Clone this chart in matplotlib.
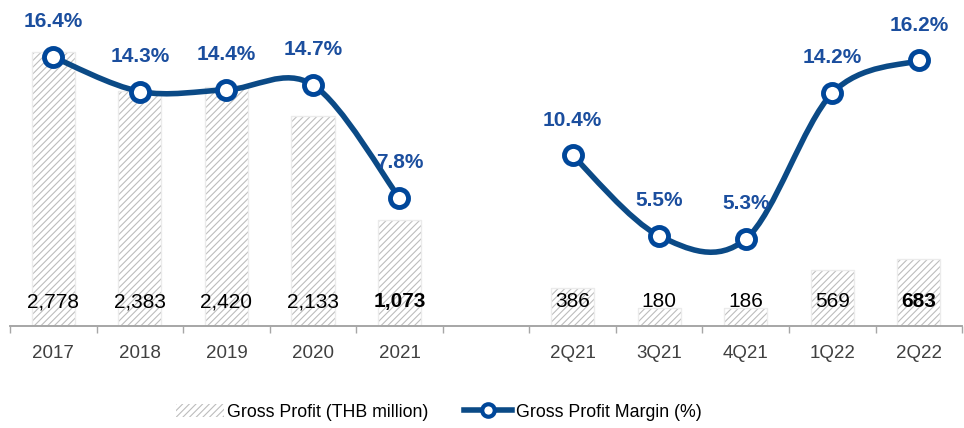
import matplotlib
matplotlib.use("Agg")
import matplotlib.pyplot as plt
import numpy as np
from matplotlib.path import Path
from matplotlib.patches import PathPatch, Patch
from matplotlib.lines import Line2D

plt.rcParams["font.family"] = ["Liberation Sans", "DejaVu Sans"]
plt.rcParams["hatch.linewidth"] = 0.8

# data
years = ["2017", "2018", "2019", "2020", "2021"]
quarters = ["2Q21", "3Q21", "4Q21", "1Q22", "2Q22"]
gp_years = [2778, 2383, 2420, 2133, 1073]
gp_quarters = [386, 180, 186, 569, 683]
gpm_years = [16.4, 14.3, 14.4, 14.7, 7.8]
gpm_quarters = [10.4, 5.5, 5.3, 14.2, 16.2]
bold_labels = ["2021", "2Q22"]

line_col = "#0B4A86"
mark_col = "#00479A"
text_col = "#1B4E9E"
hatch_col = "#BDBDBD"

labels = years + [""] + quarters
pos_years = np.arange(len(years))
pos_quarters = np.arange(len(quarters)) + len(years) + 1

fig = plt.figure(figsize=(9.64, 4.28), dpi=100)
ax = fig.add_axes([0.0104, 0.2383, 0.9876, 0.7617])
ax2 = ax.twinx()

ax.set_xlim(-0.5, 10.5)
ax.set_ylim(0, 3306)
ax2.set_ylim(0, 19.88)

# bars
for pos, vals, cats in [(pos_years, gp_years, years), (pos_quarters, gp_quarters, quarters)]:
    ax.bar(pos, vals, width=0.5, color="white", edgecolor=hatch_col, hatch="/////",
           linewidth=0, zorder=1)
    ax.bar(pos, vals, width=0.5, fill=False, edgecolor="#EBEBEB", linewidth=1, zorder=2)
    for p, v, c in zip(pos, vals, cats):
        ax.text(p, 150, f"{v:,}", ha="center", va="bottom", fontsize=15,
                fontweight="bold" if c in bold_labels else "normal", color="black", zorder=5)


def smooth_path(xs, ys):
    # Catmull-Rom style bezier through the points (like Excel smoothed lines)
    xs = np.asarray(xs, float)
    ys = np.asarray(ys, float)
    pts = np.column_stack([xs, ys])
    verts = [pts[0]]
    codes = [Path.MOVETO]
    n = len(pts)
    for i in range(n - 1):
        p0 = pts[max(i - 1, 0)]
        p1 = pts[i]
        p2 = pts[i + 1]
        p3 = pts[min(i + 2, n - 1)]
        c1 = p1 + (p2 - p0) / 6
        c2 = p2 - (p3 - p1) / 6
        verts += [c1, c2, p2]
        codes += [Path.CURVE4] * 3
    return Path(verts, codes)


for pos, vals in [(pos_years, gpm_years), (pos_quarters, gpm_quarters)]:
    ax2.add_patch(PathPatch(smooth_path(pos, vals), facecolor="none", edgecolor=line_col,
                            linewidth=4, capstyle="round", zorder=3))
    ax2.plot(pos, vals, linestyle="none", marker="o", markersize=13, markerfacecolor="white",
             markeredgecolor=mark_col, markeredgewidth=3.5, zorder=4)
    for p, v in zip(pos, vals):
        ax2.annotate(f"{v:.1f}%", (p, v), xytext=(0, 18.5), textcoords="offset points",
                     ha="center", va="bottom", fontsize=15, fontweight="bold", color=text_col,
                     annotation_clip=False)

# axes styling
ax.set_xticks(np.arange(11))
ax.set_xticklabels(labels)
ax.set_xticks(np.arange(-0.5, 11, 1), minor=True)
ax.tick_params(axis="x", which="major", length=0, pad=14, labelsize=13.5, labelcolor="#404040")
ax.tick_params(axis="x", which="minor", length=5, width=1, color="#A6A6A6")
ax.set_yticks([])
ax2.set_yticks([])
for a in (ax, ax2):
    for s in ["top", "left", "right"]:
        a.spines[s].set_visible(False)
    a.spines["bottom"].set_color("#A6A6A6")
    a.spines["bottom"].set_linewidth(1.2)

# legend
handles = [
    Patch(facecolor="white", edgecolor=hatch_col, hatch="/////", linewidth=0),
    Line2D([0], [0], color=line_col, linewidth=4, marker="o", markersize=9,
           markerfacecolor="white", markeredgecolor=mark_col, markeredgewidth=3),
]
fig.legend(handles, ["Gross Profit (THB million)", "Gross Profit Margin (%)"],
           loc="center", bbox_to_anchor=(0.455, 0.037), ncol=2, frameon=False,
           fontsize=12.8, handlelength=2.7, handleheight=0.8, handletextpad=0.2,
           columnspacing=2.0)

fig.savefig("out.png", dpi=100, facecolor="white")
